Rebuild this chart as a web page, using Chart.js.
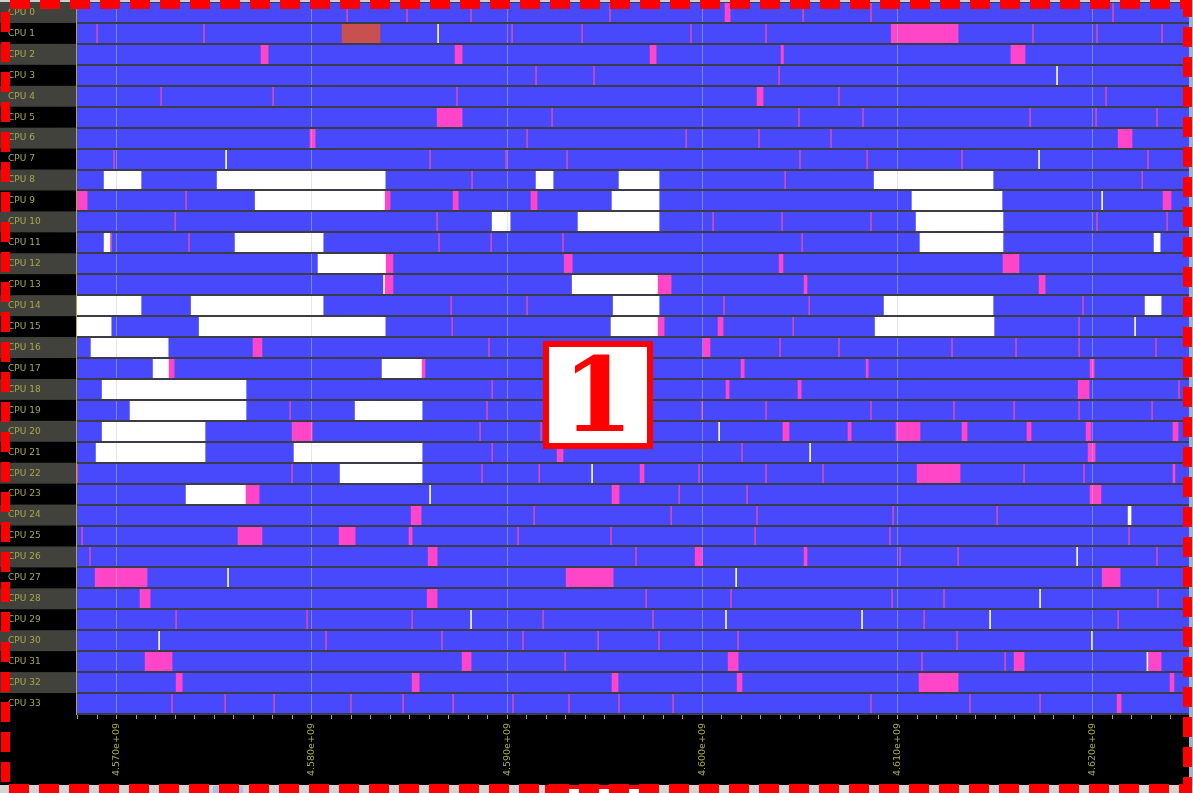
<!DOCTYPE html>
<html>
<head>
<meta charset="utf-8">
<script src="https://cdn.jsdelivr.net/npm/chart.js@4.4.1/dist/chart.umd.min.js"></script>
<style>
html,body{margin:0;padding:0;background:#000;overflow:hidden;width:1193px;height:793px;}
#wrap{position:absolute;left:0;top:0;width:1193px;height:793px;}
#topline{position:absolute;left:0;top:0;width:1193px;height:2px;background:#cfcfcf;}
#rightstrip{position:absolute;left:1189px;top:0;width:4px;height:786px;background:#9fb6cf;}
#bottomstrip{position:absolute;left:0;top:785px;width:1193px;height:8px;background:#d4d4d4;}
#thumb{position:absolute;left:213px;top:1px;width:30px;height:7px;background:#a9c1e6;}
#peek{position:absolute;left:545px;top:785px;width:108px;height:20px;box-sizing:border-box;border:4px solid #ff0000;background:#fff;}
#badge{position:absolute;left:543px;top:341px;width:110px;height:108px;box-sizing:border-box;border:6px solid #ff0000;background:#fff;
  color:#ff0000;font-family:"DejaVu Serif",serif;font-weight:bold;font-size:102px;display:flex;align-items:center;justify-content:center;line-height:1;}
#frame{position:absolute;left:0;top:0;pointer-events:none;}
</style>
</head>
<body>
<div id="wrap"><canvas id="c"></canvas></div>
<div id="topline"></div>
<div id="rightstrip"></div>
<div id="bottomstrip"><div id="thumb"></div></div>
<div id="peek"></div>
<div id="badge">1</div>
<svg id="frame" width="1193" height="793"><rect x="5.5" y="4.5" width="1182" height="784" fill="none" stroke="#ff0000" stroke-width="9" stroke-dasharray="20 10" stroke-dashoffset="25.5"/></svg>
<script>
// time axis values are in units of 1e6 (tick labels show the full value)
const XMIN = 4567.91, XMAX = 4624.93;

const cpuLabels = ['CPU 0','CPU 1','CPU 2','CPU 3','CPU 4','CPU 5','CPU 6','CPU 7','CPU 8','CPU 9',
  'CPU 10','CPU 11','CPU 12','CPU 13','CPU 14','CPU 15','CPU 16','CPU 17','CPU 18','CPU 19',
  'CPU 20','CPU 21','CPU 22','CPU 23','CPU 24','CPU 25','CPU 26','CPU 27','CPU 28','CPU 29',
  'CPU 30','CPU 31','CPU 32','CPU 33'];

const tickValues = [4570, 4580, 4590, 4600, 4610, 4620];

// [cpu, start, end] idle (white) spans
const idleSpans = [
  [8,4569.35,4571.24],[8,4575.14,4583.75],[8,4591.48,4592.35],[8,4595.73,4597.78],[8,4608.80,4614.89],
  [9,4577.09,4583.75],[9,4595.37,4597.78],[9,4610.74,4615.35],
  [10,4589.23,4590.15],[10,4593.63,4597.78],[10,4610.95,4615.40],
  [11,4569.35,4569.66],[11,4576.06,4580.57],[11,4611.15,4615.40],[11,4623.14,4623.45],
  [12,4580.31,4583.80],
  [13,4593.33,4597.73],
  [14,4567.92,4571.24],[14,4573.81,4580.57],[14,4595.43,4597.78],[14,4609.31,4614.89],[14,4622.68,4623.50],
  [15,4567.92,4569.71],[15,4574.22,4583.75],[15,4595.32,4597.73],[15,4608.85,4614.94],
  [16,4568.68,4572.63],
  [17,4571.86,4572.68],[17,4583.59,4585.64],
  [18,4569.25,4576.62],
  [19,4570.68,4576.62],[19,4582.21,4585.64],
  [20,4569.25,4574.52],
  [21,4568.94,4574.52],[21,4579.08,4585.64],
  [22,4581.44,4585.64],
  [23,4573.55,4576.62],
  [24,4621.81,4621.96]
];

// [cpu, start, end] interrupt (pink) spans
const irqSpans = [
  [0,4601.16,4601.42],
  [1,4609.67,4613.10],
  [2,4577.39,4577.75],[2,4587.33,4587.69],[2,4597.32,4597.63],[2,4604.03,4604.15],[2,4615.81,4616.53],
  [4,4602.80,4603.11],
  [5,4586.41,4587.69],
  [6,4579.90,4580.16],[6,4621.30,4622.01],
  [9,4567.92,4568.48],[9,4583.75,4584.00],[9,4587.23,4587.49],[9,4591.22,4591.53],[9,4623.60,4624.01],
  [12,4583.80,4584.15],[12,4592.92,4593.33],[12,4603.93,4604.13],[12,4615.40,4616.22],
  [13,4583.72,4584.15],[13,4597.73,4598.40],[13,4605.21,4605.36],[13,4617.25,4617.56],
  [15,4597.73,4598.04],[15,4600.80,4601.06],
  [16,4576.98,4577.44],[16,4600.04,4600.39],
  [17,4572.68,4572.94],[17,4585.64,4585.79],[17,4601.98,4602.14],[17,4608.39,4608.49],[17,4619.86,4620.07],
  [18,4601.21,4601.37],[18,4604.90,4605.06],[18,4619.25,4619.81],
  [20,4578.98,4580.01],[20,4604.13,4604.44],[20,4607.46,4607.62],[20,4609.92,4611.15],[20,4613.30,4613.56],
  [20,4616.63,4616.84],[20,4619.66,4619.91],[20,4624.11,4624.37],
  [21,4592.56,4592.86],[21,4619.76,4620.12],
  [22,4596.81,4597.01],[22,4611.00,4613.20],[22,4624.11,4624.21],
  [23,4576.62,4577.29],[23,4595.37,4595.73],[23,4619.86,4620.42],
  [24,4585.08,4585.59],
  [25,4576.21,4577.44],[25,4581.39,4582.21],[25,4584.97,4585.13],
  [26,4585.95,4586.41],[26,4599.63,4599.98],[26,4605.21,4605.36],
  [27,4568.89,4571.55],[27,4593.02,4595.43],[27,4620.48,4621.40],
  [28,4571.19,4571.71],[28,4585.90,4586.41],
  [31,4571.45,4572.83],[31,4587.69,4588.15],[31,4601.32,4601.83],[31,4615.97,4616.48],[31,4622.86,4623.50],
  [32,4573.04,4573.35],[32,4585.13,4585.49],[32,4595.37,4595.68],[32,4601.78,4602.03],[32,4611.10,4613.10],[32,4623.96,4624.16],
  [33,4621.25,4621.45]
];

// [cpu, start, end] stall (brown) spans
const stallSpans = [[1,4581.54,4583.49]];

// [cpu, time] context-switch marks
const switchMarks = [
  [0,4581.80],[0,4584.87],[0,4588.15],[0,4595.27],[0,4605.16],[0,4608.64],[0,4621.04],
  [1,4568.99],[1,4574.47],[1,4590.25],[1,4593.84],[1,4599.42],[1,4603.26],[1,4616.94],[1,4620.22],[1,4623.55],
  [3,4591.48],[3,4594.45],[3,4603.93],
  [4,4572.27],[4,4578.01],[4,4587.43],[4,4607.00],[4,4620.68],
  [5,4592.30],[5,4604.95],[5,4608.23],[5,4616.79],[5,4620.17],[5,4623.29],
  [6,4591.02],[6,4599.17],[6,4602.90],[6,4606.59],
  [7,4569.86],[7,4586.05],[7,4589.94],[7,4593.07],[7,4605.00],[7,4608.44],[7,4613.30],[7,4622.83],
  [8,4588.20],[8,4604.24],[8,4622.53],
  [9,4573.55],
  [10,4572.99],[10,4586.41],[10,4600.55],[10,4604.08],[10,4608.64],[10,4620.22],[10,4623.81],
  [11,4569.71],[11,4573.70],[11,4586.51],[11,4589.18],[11,4592.86],[11,4605.11],
  [14,4587.13],[14,4591.02],[14,4601.11],[14,4605.47],[14,4619.50],
  [15,4587.18],[15,4604.65],[15,4619.30],
  [16,4589.07],[16,4603.98],[16,4607.00],[16,4612.79],[16,4616.07],[16,4619.30],[16,4623.24],
  [18,4589.23],[18,4624.42],
  [19,4578.88],[19,4588.97],[19,4599.98],[19,4603.26],[19,4608.64],[19,4612.89],[19,4615.97],[19,4619.30],[19,4623.04],
  [20,4588.61],[20,4591.74],
  [21,4589.23],[21,4602.03],
  [22,4567.98],[22,4578.98],[22,4588.71],[22,4591.64],[22,4599.83],[22,4603.26],[22,4606.18],[22,4616.48],[22,4619.55],
  [23,4598.81],[23,4602.29],
  [24,4591.38],[24,4598.40],[24,4602.80],[24,4609.77],[24,4615.10],
  [25,4568.22],[25,4590.56],[25,4595.32],[25,4602.70],[25,4609.61],[25,4621.86],
  [26,4568.63],[26,4596.60],[26,4610.13],[26,4613.10],[26,4623.29],
  [28,4597.12],[28,4601.47],[28,4609.72],[28,4612.38],[28,4623.34],
  [29,4573.04],[29,4579.75],[29,4585.13],[29,4591.84],[29,4597.47],[29,4611.36],[29,4621.30],
  [30,4580.72],[30,4586.66],[30,4590.81],[30,4594.66],[30,4597.78],[30,4601.83],[30,4613.05],
  [31,4592.97],[31,4611.25],[31,4615.51],
  [33,4572.83],[33,4575.55],[33,4578.06],[33,4582.00],[33,4584.67],[33,4587.23],[33,4590.30],[33,4593.17],
  [33,4595.73],[33,4598.50],[33,4608.64],[33,4613.71],[33,4617.30]
];

// [cpu, time] short idle marks (white)
const idleMarks = [
  [1,4586.46],[3,4618.17],[7,4575.60],[7,4617.25],[9,4620.48],[13,4583.69],[15,4622.17],
  [20,4600.86],[21,4605.52],[22,4594.35],[23,4586.05],[26,4619.20],[27,4575.70],[27,4601.73],
  [28,4617.30],[29,4588.15],[29,4601.21],[29,4608.18],[29,4614.74],[30,4572.17],[30,4619.96],[31,4622.80]
];

const BLUE = '#4848fc', PINK = '#ff46c8', BROWN = '#c8504e', OLIVE = '#a8a848';

const toSpans = s => s.map(([r,a,b]) => ({y: cpuLabels[r], x: [a,b]}));
const toMarks = m => m.map(([r,v]) => ({y: cpuLabels[r], x: v}));
const barBase = {type:'bar', barPercentage:1, categoryPercentage:1, grouped:false, borderWidth:0, borderSkipped:false};
const markBase = {type:'scatter', pointStyle:'line', pointRotation:90, pointRadius:10, pointHoverRadius:10, pointBorderWidth:1.6, showLine:false};

const rowBands = {
  id:'rowBands',
  beforeDraw(chart){
    const {ctx, chartArea, scales:{y}} = chart;
    ctx.save();
    ctx.fillStyle = '#000';
    ctx.fillRect(0,0,chart.width,chart.height);
    const half = Math.abs(y.getPixelForValue(1) - y.getPixelForValue(0)) / 2;
    cpuLabels.forEach((l,i) => {
      if (i % 2 === 0) {
        const c = y.getPixelForValue(i);
        ctx.fillStyle = '#42423c';
        ctx.fillRect(0, c - half, chartArea.left, half * 2);
      }
    });
    ctx.restore();
  }
};

new Chart(document.getElementById('c'), {
  type:'bar',
  data:{
    labels: cpuLabels,
    datasets:[
      {...barBase, label:'busy', order:6, data: cpuLabels.map(l => ({y:l, x:[XMIN, XMAX]})), backgroundColor: BLUE},
      {...barBase, label:'idle', order:5, data: toSpans(idleSpans), backgroundColor:'#ffffff'},
      {...barBase, label:'stall', order:4, data: toSpans(stallSpans), backgroundColor: BROWN},
      {...barBase, label:'irq', order:3, data: toSpans(irqSpans), backgroundColor: PINK},
      {...markBase, label:'switch', order:2, data: toMarks(switchMarks), pointBorderColor:'rgba(232,78,168,0.85)', borderColor:'rgba(232,78,168,0.85)', pointBackgroundColor:'rgba(0,0,0,0)'},
      {...markBase, label:'idle mark', order:1, data: toMarks(idleMarks), pointBorderColor:'#ffffff', borderColor:'#ffffff', pointBackgroundColor:'rgba(0,0,0,0)'}
    ]
  },
  options:{
    indexAxis:'y',
    responsive:true,
    maintainAspectRatio:false,
    animation:false,
    events:[],
    layout:{autoPadding:false, padding:{left:8, top:2, right:4, bottom:0}},
    plugins:{legend:{display:false}, tooltip:{enabled:false}},
    scales:{
      x:{
        type:'linear', position:'bottom', min:XMIN, max:XMAX,
        grid:{z:1, lineWidth:1, tickLength:5, tickColor:OLIVE,
          color: ctx => (ctx.tick && tickValues.includes(Math.round(ctx.tick.value))) ? 'rgba(200,200,212,0.45)' : 'rgba(0,0,0,0)'},
        border:{color:OLIVE, width:1, z:1},
        ticks:{stepSize:1, autoSkip:false, includeBounds:false, minRotation:90, maxRotation:90, padding:4,
          color:OLIVE, font:{family:'DejaVu Sans', size:9.5},
          callback: v => { const n = Math.round(v); return tickValues.includes(n) ? (n/1000).toFixed(3) + 'e+09' : ''; }},
        afterFit: s => { s.height = 79; s.paddingLeft = 0; s.paddingRight = 0; s.paddingTop = 0; s.paddingBottom = 0; }
      },
      y:{
        type:'category', position:'left', offset:true,
        grid:{z:1, offset:true, color:'#3b3b4a', lineWidth:2, drawTicks:false},
        border:{color:OLIVE, width:1, z:1},
        ticks:{crossAlign:'far', autoSkip:false, padding:0, color:OLIVE, font:{family:'DejaVu Sans', size:9}},
        afterFit: s => { s.width = 68; s.paddingTop = 0; s.paddingBottom = 0; s.paddingLeft = 0; s.paddingRight = 0; }
      }
    }
  },
  plugins:[rowBands]
});
</script>
</body>
</html>
